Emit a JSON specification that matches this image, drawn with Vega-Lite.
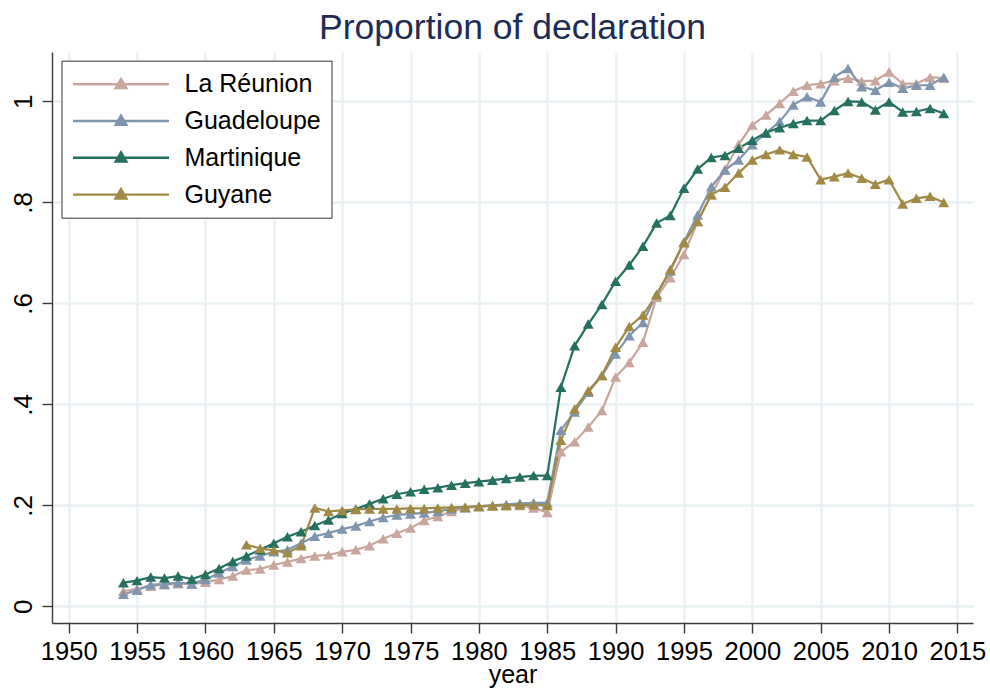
{
  "$schema": "https://vega.github.io/schema/vega-lite/v6.json",
  "autosize": "none",
  "width": 921,
  "height": 571,
  "padding": {"left": 52, "top": 52, "right": 17, "bottom": 67},
  "background": "white",
  "title": {"text": "Proportion of declaration", "fontSize": 35.5, "font": "Liberation Sans", "fontWeight": "normal", "color": "#1e2c55", "anchor": "middle", "offset": 6},
  "data": {"values": [
    {"year":1954,"region":"La Réunion","value":0.030},{"year":1955,"region":"La Réunion","value":0.035},{"year":1956,"region":"La Réunion","value":0.040},{"year":1957,"region":"La Réunion","value":0.043},{"year":1958,"region":"La Réunion","value":0.045},{"year":1959,"region":"La Réunion","value":0.044},{"year":1960,"region":"La Réunion","value":0.048},{"year":1961,"region":"La Réunion","value":0.053},{"year":1962,"region":"La Réunion","value":0.060},{"year":1963,"region":"La Réunion","value":0.072},{"year":1964,"region":"La Réunion","value":0.074},{"year":1965,"region":"La Réunion","value":0.082},{"year":1966,"region":"La Réunion","value":0.088},{"year":1967,"region":"La Réunion","value":0.095},{"year":1968,"region":"La Réunion","value":0.100},{"year":1969,"region":"La Réunion","value":0.102},{"year":1970,"region":"La Réunion","value":0.108},{"year":1971,"region":"La Réunion","value":0.112},{"year":1972,"region":"La Réunion","value":0.120},{"year":1973,"region":"La Réunion","value":0.134},{"year":1974,"region":"La Réunion","value":0.145},{"year":1975,"region":"La Réunion","value":0.155},{"year":1976,"region":"La Réunion","value":0.170},{"year":1977,"region":"La Réunion","value":0.178},{"year":1978,"region":"La Réunion","value":0.188},{"year":1979,"region":"La Réunion","value":0.195},{"year":1980,"region":"La Réunion","value":0.198},{"year":1981,"region":"La Réunion","value":0.200},{"year":1982,"region":"La Réunion","value":0.200},{"year":1983,"region":"La Réunion","value":0.200},{"year":1984,"region":"La Réunion","value":0.195},{"year":1985,"region":"La Réunion","value":0.186},{"year":1986,"region":"La Réunion","value":0.306},{"year":1987,"region":"La Réunion","value":0.326},{"year":1988,"region":"La Réunion","value":0.355},{"year":1989,"region":"La Réunion","value":0.388},{"year":1990,"region":"La Réunion","value":0.454},{"year":1991,"region":"La Réunion","value":0.483},{"year":1992,"region":"La Réunion","value":0.523},{"year":1993,"region":"La Réunion","value":0.612},{"year":1994,"region":"La Réunion","value":0.651},{"year":1995,"region":"La Réunion","value":0.697},{"year":1996,"region":"La Réunion","value":0.762},{"year":1997,"region":"La Réunion","value":0.815},{"year":1998,"region":"La Réunion","value":0.865},{"year":1999,"region":"La Réunion","value":0.915},{"year":2000,"region":"La Réunion","value":0.953},{"year":2001,"region":"La Réunion","value":0.973},{"year":2002,"region":"La Réunion","value":0.996},{"year":2003,"region":"La Réunion","value":1.020},{"year":2004,"region":"La Réunion","value":1.032},{"year":2005,"region":"La Réunion","value":1.035},{"year":2006,"region":"La Réunion","value":1.041},{"year":2007,"region":"La Réunion","value":1.046},{"year":2008,"region":"La Réunion","value":1.040},{"year":2009,"region":"La Réunion","value":1.041},{"year":2010,"region":"La Réunion","value":1.058},{"year":2011,"region":"La Réunion","value":1.035},{"year":2012,"region":"La Réunion","value":1.035},{"year":2013,"region":"La Réunion","value":1.048},{"year":2014,"region":"La Réunion","value":1.046},
    {"year":1954,"region":"Guadeloupe","value":0.024},{"year":1955,"region":"Guadeloupe","value":0.032},{"year":1956,"region":"Guadeloupe","value":0.043},{"year":1957,"region":"Guadeloupe","value":0.044},{"year":1958,"region":"Guadeloupe","value":0.047},{"year":1959,"region":"Guadeloupe","value":0.045},{"year":1960,"region":"Guadeloupe","value":0.053},{"year":1961,"region":"Guadeloupe","value":0.066},{"year":1962,"region":"Guadeloupe","value":0.079},{"year":1963,"region":"Guadeloupe","value":0.092},{"year":1964,"region":"Guadeloupe","value":0.100},{"year":1965,"region":"Guadeloupe","value":0.108},{"year":1966,"region":"Guadeloupe","value":0.112},{"year":1967,"region":"Guadeloupe","value":0.125},{"year":1968,"region":"Guadeloupe","value":0.139},{"year":1969,"region":"Guadeloupe","value":0.145},{"year":1970,"region":"Guadeloupe","value":0.153},{"year":1971,"region":"Guadeloupe","value":0.159},{"year":1972,"region":"Guadeloupe","value":0.168},{"year":1973,"region":"Guadeloupe","value":0.176},{"year":1974,"region":"Guadeloupe","value":0.181},{"year":1975,"region":"Guadeloupe","value":0.183},{"year":1976,"region":"Guadeloupe","value":0.185},{"year":1977,"region":"Guadeloupe","value":0.188},{"year":1978,"region":"Guadeloupe","value":0.193},{"year":1979,"region":"Guadeloupe","value":0.196},{"year":1980,"region":"Guadeloupe","value":0.198},{"year":1981,"region":"Guadeloupe","value":0.200},{"year":1982,"region":"Guadeloupe","value":0.202},{"year":1983,"region":"Guadeloupe","value":0.204},{"year":1984,"region":"Guadeloupe","value":0.205},{"year":1985,"region":"Guadeloupe","value":0.205},{"year":1986,"region":"Guadeloupe","value":0.349},{"year":1987,"region":"Guadeloupe","value":0.385},{"year":1988,"region":"Guadeloupe","value":0.424},{"year":1989,"region":"Guadeloupe","value":0.457},{"year":1990,"region":"Guadeloupe","value":0.500},{"year":1991,"region":"Guadeloupe","value":0.536},{"year":1992,"region":"Guadeloupe","value":0.562},{"year":1993,"region":"Guadeloupe","value":0.618},{"year":1994,"region":"Guadeloupe","value":0.664},{"year":1995,"region":"Guadeloupe","value":0.722},{"year":1996,"region":"Guadeloupe","value":0.775},{"year":1997,"region":"Guadeloupe","value":0.831},{"year":1998,"region":"Guadeloupe","value":0.864},{"year":1999,"region":"Guadeloupe","value":0.884},{"year":2000,"region":"Guadeloupe","value":0.914},{"year":2001,"region":"Guadeloupe","value":0.937},{"year":2002,"region":"Guadeloupe","value":0.960},{"year":2003,"region":"Guadeloupe","value":0.993},{"year":2004,"region":"Guadeloupe","value":1.009},{"year":2005,"region":"Guadeloupe","value":0.999},{"year":2006,"region":"Guadeloupe","value":1.048},{"year":2007,"region":"Guadeloupe","value":1.065},{"year":2008,"region":"Guadeloupe","value":1.029},{"year":2009,"region":"Guadeloupe","value":1.022},{"year":2010,"region":"Guadeloupe","value":1.038},{"year":2011,"region":"Guadeloupe","value":1.026},{"year":2012,"region":"Guadeloupe","value":1.032},{"year":2013,"region":"Guadeloupe","value":1.032},{"year":2014,"region":"Guadeloupe","value":1.048},
    {"year":1954,"region":"Martinique","value":0.047},{"year":1955,"region":"Martinique","value":0.051},{"year":1956,"region":"Martinique","value":0.058},{"year":1957,"region":"Martinique","value":0.056},{"year":1958,"region":"Martinique","value":0.060},{"year":1959,"region":"Martinique","value":0.054},{"year":1960,"region":"Martinique","value":0.063},{"year":1961,"region":"Martinique","value":0.075},{"year":1962,"region":"Martinique","value":0.089},{"year":1963,"region":"Martinique","value":0.100},{"year":1964,"region":"Martinique","value":0.112},{"year":1965,"region":"Martinique","value":0.125},{"year":1966,"region":"Martinique","value":0.138},{"year":1967,"region":"Martinique","value":0.148},{"year":1968,"region":"Martinique","value":0.160},{"year":1969,"region":"Martinique","value":0.171},{"year":1970,"region":"Martinique","value":0.184},{"year":1971,"region":"Martinique","value":0.193},{"year":1972,"region":"Martinique","value":0.203},{"year":1973,"region":"Martinique","value":0.213},{"year":1974,"region":"Martinique","value":0.222},{"year":1975,"region":"Martinique","value":0.227},{"year":1976,"region":"Martinique","value":0.232},{"year":1977,"region":"Martinique","value":0.235},{"year":1978,"region":"Martinique","value":0.240},{"year":1979,"region":"Martinique","value":0.244},{"year":1980,"region":"Martinique","value":0.247},{"year":1981,"region":"Martinique","value":0.250},{"year":1982,"region":"Martinique","value":0.253},{"year":1983,"region":"Martinique","value":0.256},{"year":1984,"region":"Martinique","value":0.259},{"year":1985,"region":"Martinique","value":0.259},{"year":1986,"region":"Martinique","value":0.434},{"year":1987,"region":"Martinique","value":0.516},{"year":1988,"region":"Martinique","value":0.559},{"year":1989,"region":"Martinique","value":0.598},{"year":1990,"region":"Martinique","value":0.644},{"year":1991,"region":"Martinique","value":0.676},{"year":1992,"region":"Martinique","value":0.713},{"year":1993,"region":"Martinique","value":0.759},{"year":1994,"region":"Martinique","value":0.774},{"year":1995,"region":"Martinique","value":0.828},{"year":1996,"region":"Martinique","value":0.866},{"year":1997,"region":"Martinique","value":0.889},{"year":1998,"region":"Martinique","value":0.893},{"year":1999,"region":"Martinique","value":0.907},{"year":2000,"region":"Martinique","value":0.923},{"year":2001,"region":"Martinique","value":0.938},{"year":2002,"region":"Martinique","value":0.948},{"year":2003,"region":"Martinique","value":0.956},{"year":2004,"region":"Martinique","value":0.962},{"year":2005,"region":"Martinique","value":0.962},{"year":2006,"region":"Martinique","value":0.982},{"year":2007,"region":"Martinique","value":1.000},{"year":2008,"region":"Martinique","value":0.999},{"year":2009,"region":"Martinique","value":0.983},{"year":2010,"region":"Martinique","value":0.999},{"year":2011,"region":"Martinique","value":0.979},{"year":2012,"region":"Martinique","value":0.980},{"year":2013,"region":"Martinique","value":0.986},{"year":2014,"region":"Martinique","value":0.976},
    {"year":1963,"region":"Guyane","value":0.122},{"year":1964,"region":"Guyane","value":0.115},{"year":1965,"region":"Guyane","value":0.111},{"year":1966,"region":"Guyane","value":0.106},{"year":1967,"region":"Guyane","value":0.120},{"year":1968,"region":"Guyane","value":0.195},{"year":1969,"region":"Guyane","value":0.188},{"year":1970,"region":"Guyane","value":0.190},{"year":1971,"region":"Guyane","value":0.192},{"year":1972,"region":"Guyane","value":0.193},{"year":1973,"region":"Guyane","value":0.193},{"year":1974,"region":"Guyane","value":0.193},{"year":1975,"region":"Guyane","value":0.194},{"year":1976,"region":"Guyane","value":0.194},{"year":1977,"region":"Guyane","value":0.195},{"year":1978,"region":"Guyane","value":0.196},{"year":1979,"region":"Guyane","value":0.197},{"year":1980,"region":"Guyane","value":0.198},{"year":1981,"region":"Guyane","value":0.199},{"year":1982,"region":"Guyane","value":0.200},{"year":1983,"region":"Guyane","value":0.201},{"year":1984,"region":"Guyane","value":0.201},{"year":1985,"region":"Guyane","value":0.200},{"year":1986,"region":"Guyane","value":0.329},{"year":1987,"region":"Guyane","value":0.391},{"year":1988,"region":"Guyane","value":0.427},{"year":1989,"region":"Guyane","value":0.457},{"year":1990,"region":"Guyane","value":0.513},{"year":1991,"region":"Guyane","value":0.554},{"year":1992,"region":"Guyane","value":0.577},{"year":1993,"region":"Guyane","value":0.617},{"year":1994,"region":"Guyane","value":0.667},{"year":1995,"region":"Guyane","value":0.720},{"year":1996,"region":"Guyane","value":0.762},{"year":1997,"region":"Guyane","value":0.815},{"year":1998,"region":"Guyane","value":0.830},{"year":1999,"region":"Guyane","value":0.858},{"year":2000,"region":"Guyane","value":0.884},{"year":2001,"region":"Guyane","value":0.895},{"year":2002,"region":"Guyane","value":0.904},{"year":2003,"region":"Guyane","value":0.895},{"year":2004,"region":"Guyane","value":0.890},{"year":2005,"region":"Guyane","value":0.845},{"year":2006,"region":"Guyane","value":0.851},{"year":2007,"region":"Guyane","value":0.858},{"year":2008,"region":"Guyane","value":0.848},{"year":2009,"region":"Guyane","value":0.836},{"year":2010,"region":"Guyane","value":0.845},{"year":2011,"region":"Guyane","value":0.797},{"year":2012,"region":"Guyane","value":0.808},{"year":2013,"region":"Guyane","value":0.812},{"year":2014,"region":"Guyane","value":0.800}
  ]},
  "mark": {"type": "line", "strokeWidth": 2.2, "point": {"shape": "triangle-up", "filled": true, "size": 120, "opacity": 1}},
  "encoding": {
    "x": {"field": "year", "type": "quantitative",
      "scale": {"domain": [1948.778, 2016.141], "nice": false, "zero": false},
      "axis": {"values": [1950,1955,1960,1965,1970,1975,1980,1985,1990,1995,2000,2005,2010,2015], "format": "d", "title": "year", "labelFlush": false, "labelOverlap": false,
        "tickSize": 10, "labelPadding": 6, "titlePadding": -2, "labelFontSize": 25.5, "titleFontSize": 25}},
    "y": {"field": "value", "type": "quantitative",
      "scale": {"domain": [-0.0329, 1.0978], "nice": false, "zero": false},
      "axis": {"values": [0, 0.2, 0.4, 0.6, 0.8, 1], "title": null, "labelAngle": -90, "labelFlush": false, "labelOverlap": false,
        "labelExpr": "datum.value == 0 ? '0' : datum.value == 1 ? '1' : '.' + format(datum.value * 10, 'd')",
        "tickSize": 10, "labelPadding": 6, "labelFontSize": 26}},
    "color": {"field": "region", "type": "nominal",
      "scale": {"domain": ["La Réunion", "Guadeloupe", "Martinique", "Guyane"], "range": ["#c8a59d", "#7f95ad", "#26705f", "#a08a45"]},
      "legend": {"title": null, "orient": "none", "legendX": 9.5, "legendY": 8.7,
        "symbolType": "M-4,0H4M-0.45,0.32L0,-0.45L0.45,0.32Z", "symbolSize": 576, "symbolOffset": 36, "labelOffset": 50,
        "symbolStrokeWidth": 2.4, "labelFontSize": 25, "labelFont": "Liberation Sans", "labelColor": "black", "rowPadding": 9.8,
        "padding": 10, "strokeColor": "#333333", "fillColor": "white", "labelLimit": 400,
        "encode": {"symbols": {"update": {"fill": {"scale": "color", "field": "value"}, "stroke": {"scale": "color", "field": "value"}, "strokeWidth": {"value": 2.4}, "opacity": {"value": 1}}}}}}
  },
  "config": {
    "view": {"stroke": null},
    "axis": {"labelFont": "Liberation Sans", "labelFontSize": 24, "labelColor": "black", "titleFont": "Liberation Sans", "titleFontSize": 24, "titleFontWeight": "normal", "titleColor": "black",
      "domainColor": "#3a3a3a", "domainWidth": 1.4, "tickColor": "#3a3a3a", "tickWidth": 1.4, "gridColor": "#eaf1f3", "gridWidth": 2.5, "grid": true}
  }
}
